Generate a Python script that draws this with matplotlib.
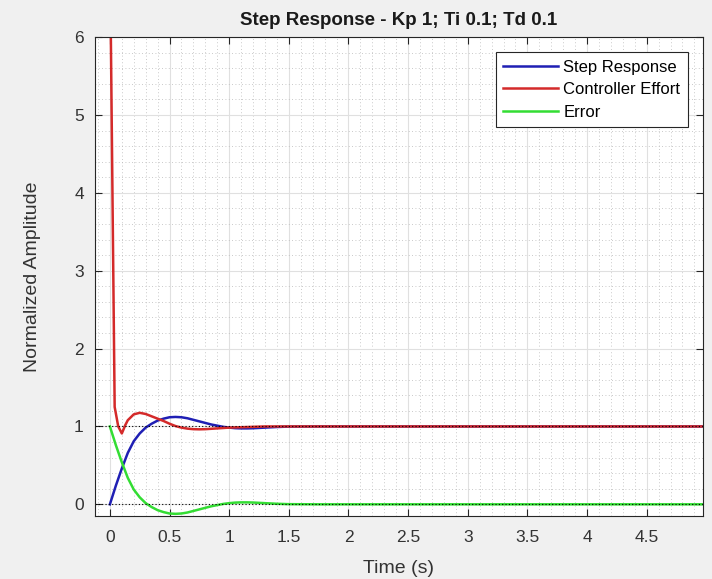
import matplotlib
matplotlib.use("Agg")
import matplotlib.pyplot as plt
from matplotlib.ticker import MultipleLocator, FormatStrFormatter

plt.rcParams['font.family'] = ['Liberation Sans', 'DejaVu Sans']

# values
t = [0, 0.05, 0.1, 0.15, 0.2, 0.25, 0.3, 0.35, 0.4, 0.45, 0.5, 0.55, 0.6, 0.65,
     0.7, 0.75, 0.8, 0.85, 0.9, 0.95, 1.0, 1.05, 1.1, 1.15, 1.2, 1.3, 1.4, 1.5,
     1.75, 2.0, 3.0, 4.0, 4.975]
step = [0, 0.24, 0.46, 0.66, 0.81, 0.91, 0.985, 1.035, 1.075, 1.10, 1.118, 1.122,
        1.118, 1.105, 1.085, 1.065, 1.045, 1.025, 1.01, 0.995, 0.985, 0.978, 0.975,
        0.975, 0.977, 0.985, 0.993, 0.998, 1.0, 1.0, 1.0, 1.0, 1.0]
error = [1, 0.76, 0.54, 0.34, 0.19, 0.09, 0.015, -0.035, -0.075, -0.10, -0.118,
         -0.122, -0.118, -0.105, -0.085, -0.065, -0.045, -0.025, -0.01, 0.005,
         0.015, 0.022, 0.025, 0.025, 0.023, 0.015, 0.007, 0.002, 0, 0, 0, 0, 0]

t_u = [0, 0.04, 0.07, 0.1, 0.13, 0.15, 0.2, 0.25, 0.3, 0.35, 0.4, 0.45, 0.5,
       0.55, 0.6, 0.65, 0.7, 0.75, 0.8, 0.85, 0.9, 0.95, 1.0, 1.1, 1.2, 1.3,
       1.5, 2.0, 3.0, 4.0, 4.975]
effort = [7.2, 1.25, 1.0, 0.91, 1.02, 1.08, 1.155, 1.175, 1.16, 1.13, 1.10, 1.07,
          1.035, 1.005, 0.985, 0.972, 0.965, 0.963, 0.965, 0.97, 0.975, 0.98,
          0.985, 0.99, 0.995, 1.0, 1.0, 1.0, 1.0, 1.0, 1.0]

fig = plt.figure(figsize=(7.12, 5.79), dpi=100, facecolor='#f0f0f0')
ax = fig.add_axes([0.1334, 0.1088, 0.8536, 0.8272])

ax.plot(t, step, color='#1f1fb4', lw=1.8, label='Step Response')
ax.plot(t_u, effort, color='#d42a2a', lw=1.8, label='Controller Effort')
ax.plot(t, error, color='#33dd33', lw=1.8, label='Error')
ax.axhline(1, color='black', ls=(0, (1, 2)), lw=0.8)
ax.axhline(0, color='black', ls=(0, (1, 2)), lw=0.8)

ax.set_xlim(-0.125, 4.97)
ax.set_ylim(-0.15, 6)
ax.xaxis.set_major_locator(MultipleLocator(0.5))
ax.xaxis.set_minor_locator(MultipleLocator(0.1))
ax.xaxis.set_major_formatter(FormatStrFormatter('%g'))
ax.yaxis.set_major_locator(MultipleLocator(1))
ax.yaxis.set_minor_locator(MultipleLocator(0.2))
ax.grid(which='major', color='#e0e0e0', lw=0.8)
ax.grid(which='minor', color='#b8b8b8', ls=(0, (1, 3)), lw=0.6)
ax.set_axisbelow(True)
ax.tick_params(which='major', direction='in', top=True, right=True, length=5,
               labelsize=12.5, labelcolor='#333333', color='#262626')
ax.tick_params(axis='x', which='major', pad=10)
ax.tick_params(axis='y', which='major', pad=8)
ax.tick_params(which='minor', length=0)
for s in ax.spines.values():
    s.set_color('#262626')

ax.set_title('Step Response - Kp 1; Ti 0.1; Td 0.1', fontsize=13.5,
             fontweight='bold', color='#1a1a1a', pad=9)
ax.set_xlabel('Time (s)', fontsize=14, color='#333333', labelpad=11)
ax.set_ylabel('Normalized Amplitude', fontsize=14, color='#333333', labelpad=24)

leg = ax.legend(loc='upper right', fontsize=12, fancybox=False, framealpha=1,
                edgecolor='#262626', handlelength=3.3, borderaxespad=0.9,
                labelspacing=0.45, handletextpad=0.3, borderpad=0.45)
leg.get_frame().set_linewidth(0.8)

fig.savefig('out.png', dpi=100, facecolor=fig.get_facecolor())
